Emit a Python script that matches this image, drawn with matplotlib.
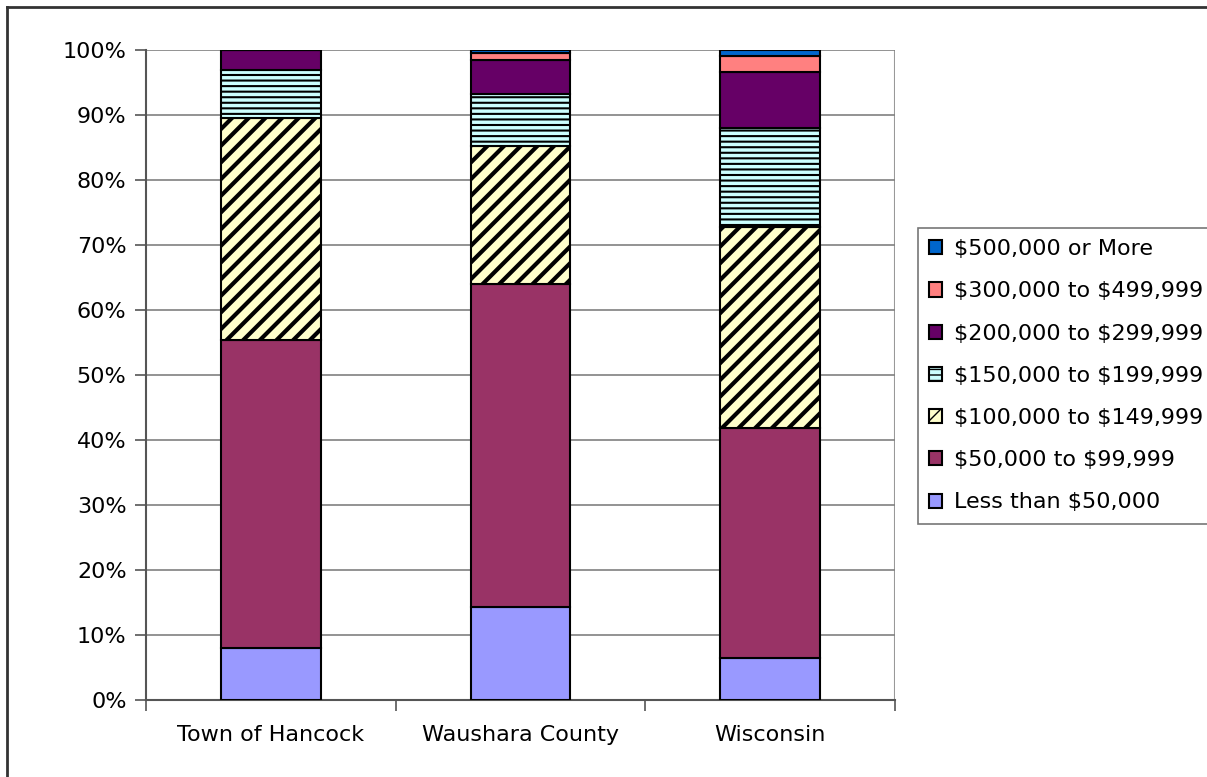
import numpy as np
import matplotlib as mpl
import matplotlib.pyplot as plt
from matplotlib.lines import Line2D
from matplotlib.ticker import PercentFormatter

plt.rcParams['text.parse_math'] = False

places = ['Town of Hancock', 'Waushara County', 'Wisconsin']

# percent of homes in each value bracket
less_50k = [8.0, 14.3, 6.5]
k50_99 = [47.4, 49.7, 35.3]
k100_149 = [34.1, 21.2, 31.0]
k150_199 = [7.4, 8.0, 15.2]
k200_299 = [3.1, 5.3, 8.6]
k300_499 = [0.0, 1.1, 2.5]
k500_up = [0.0, 0.4, 0.9]

series = [
    ('Less than $50,000', less_50k, '#9999FF', None, 1.0),
    ('$50,000 to $99,999', k50_99, '#993366', None, 1.0),
    ('$100,000 to $149,999', k100_149, '#FFFFCC', '//', 3.0),
    ('$150,000 to $199,999', k150_199, '#CCFFFF', '---', 1.5),
    ('$200,000 to $299,999', k200_299, '#660066', None, 1.0),
    ('$300,000 to $499,999', k300_499, '#FF8080', None, 1.0),
    ('$500,000 or More', k500_up, '#0066CC', None, 1.0),
]

fig = plt.figure(figsize=(12.07, 7.77), dpi=100)
ax = fig.add_axes([146/1207, 77/777, 749/1207, 650/777])

x = np.arange(len(places))
bottom = np.zeros(len(places))
for name, vals, col, hatch, hlw in series:
    with mpl.rc_context({'hatch.linewidth': hlw, 'hatch.color': '#333333'}):
        ax.bar(x, vals, 0.4, bottom=bottom, color=col, edgecolor='black',
               linewidth=1.5, hatch=hatch, label=name, zorder=3)
    bottom += np.array(vals)

ax.set_xlim(-0.5, 2.5)
ax.set_ylim(0, 100)
ax.set_yticks(np.arange(0, 101, 10))
ax.yaxis.set_major_formatter(PercentFormatter(decimals=0))
ax.set_xticks(x)
ax.set_xticklabels(places)
ax.set_xticks([-0.5, 0.5, 1.5, 2.5], minor=True)
ax.tick_params(axis='x', which='major', length=0, pad=18, labelsize=16)
ax.tick_params(axis='x', which='minor', length=8, width=1.2, color='#555555')
ax.tick_params(axis='y', length=8, width=1.2, color='#555555', labelsize=16, pad=6)
ax.grid(axis='y', color='#808080', linewidth=1.2, zorder=0)
for s in ['top', 'right']:
    ax.spines[s].set_visible(False)
ax.spines['left'].set_color('#555555')
ax.spines['bottom'].set_color('#555555')
ax.spines['left'].set_linewidth(1.5)
ax.spines['bottom'].set_linewidth(1.5)
# right edge of plot area is a light grey line in the original
ax.axvline(2.5, color='#999999', linewidth=1.5, zorder=1)

h, l = ax.get_legend_handles_labels()
leg = fig.legend(h[::-1], l[::-1], loc='upper left',
                 bbox_to_anchor=(918/1207, 1 - 228/777),
                 fontsize=16, frameon=True, fancybox=False,
                 edgecolor='#555555', handlelength=0.6, handleheight=0.6,
                 handletextpad=0.5, labelspacing=1.0, borderpad=0.5,
                 borderaxespad=0)
leg.get_frame().set_linewidth(1.2)

# outer chart border
fig.add_artist(Line2D([7/1207, 1], [1 - 7/777, 1 - 7/777], color='#333333', linewidth=2))
fig.add_artist(Line2D([7/1207, 7/1207], [0, 1 - 7/777], color='#333333', linewidth=2))

fig.savefig('out.png', dpi=100)
